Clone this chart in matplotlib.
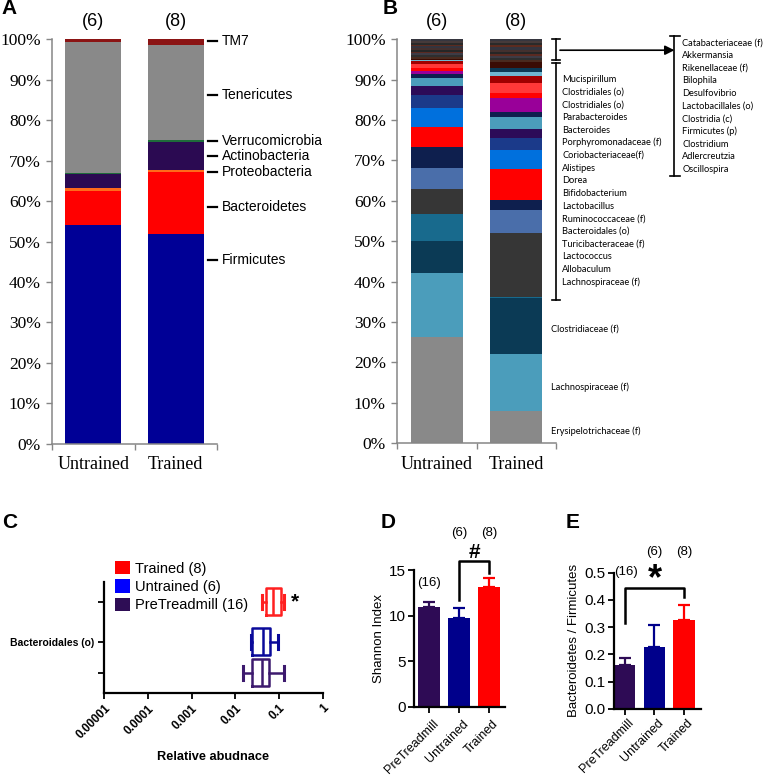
import matplotlib
matplotlib.use('Agg')
import matplotlib.pyplot as plt
import numpy as np
from matplotlib.patches import Patch
from matplotlib.ticker import FixedLocator, NullFormatter
from matplotlib.transforms import ScaledTranslation

W, H = 763, 776
SANS = 'Liberation Sans'
SERIF = 'Liberation Serif'
SMALL = 'Lato'

groups = ['Untrained', 'Trained']
group_n = ['(6)', '(8)']

# Panel A - phylum composition (%), bottom to top
phyla = ['Firmicutes', 'Bacteroidetes', 'Proteobacteria', 'Actinobacteria',
         'Verrucomicrobia', 'Tenericutes', 'TM7']
phyla_untrained = [54.0, 8.6, 0.6, 3.6, 0.1, 32.5, 0.6]
phyla_trained = [51.8, 15.4, 0.5, 6.9, 0.4, 23.6, 1.4]
phyla_colors = ['#000096', '#FF0000', '#FF6A1A', '#2B0A52', '#1E6B3A', '#898989', '#8B1414']
phyla_label_y = [45.4, 58.5, 67.1, 71.1, 74.8, 86.2, 99.6]

# Panel B - family / genus composition (%), bottom to top
taxa = ['Erysipelotrichaceae (f)', 'Lachnospiraceae (f)', 'Clostridiaceae (f)',
        'Lachnospiraceae (f)', 'Allobaculum', 'Lactococcus', 'Turicibacteraceae (f)',
        'Bacteroidales (o)', 'Ruminococcaceae (f)', 'Lactobacillus', 'Bifidobacterium',
        'Dorea', 'Alistipes', 'Coriobacteriaceae(f)', 'Porphyromonadaceae (f)',
        'Bacteroides', 'Parabacteroides', 'Clostridiales (o)', 'Clostridiales (o)',
        'Mucispirillum',
        'Oscillospira', 'Adlercreutzia', 'Clostridium', 'Firmicutes (p)', 'Clostridia (c)',
        'Lactobacillales (o)', 'Desulfovibrio', 'Bilophila', 'Rikenellaceae (f)',
        'Akkermansia', 'Catabacteriaceae (f)']
taxa_untrained = [26.4, 15.8, 7.8, 6.8, 6.1, 5.3, 5.2, 4.8, 4.7, 3.3, 2.3, 1.9, 1.0,
                  0.8, 0.8, 0.9, 0.7, 0.3, 0.1, 0.1,
                  0.5, 0.4, 0.5, 0.4, 0.5, 0.4, 0.45, 0.45, 0.4, 0.45, 0.45]
taxa_trained = [8.0, 14.2, 13.7, 0.4, 15.7, 5.8, 2.4, 7.7, 4.7, 2.9, 2.3, 2.9, 1.4,
                3.4, 1.1, 2.5, 1.7, 1.0, 1.0, 1.6,
                0.5, 0.55, 0.5, 0.5, 0.5, 0.5, 0.55, 0.5, 0.5, 0.5, 0.5]
taxa_colors = ['#898989', '#4B9DBB', '#0B3A55', '#186A8D', '#363636', '#4A6EAA',
               '#0E1F4E', '#FF0000', '#0070DD', '#1B3A8A', '#2C0B58', '#4B9DBB',
               '#0E1F4E', '#990099', '#FF0000', '#FF3838', '#A00000', '#6FB6D0',
               '#0B3A55', '#3A0C04',
               '#4A2A1E', '#2E2E2E', '#3D3B45', '#5A2A22', '#262626', '#43302E',
               '#34343E', '#5C2B1F', '#2A2A2A', '#463A3A', '#36363F']

# Panel C - Bacteroidales (o) relative abundance
c_groups = ['PreTreadmill (16)', 'Untrained (6)', 'Trained (8)']
c_whislo = [0.0152, 0.0224, 0.0407]
c_q1 = [0.0236, 0.0236, 0.0501]
c_med = [0.040, 0.0422, 0.0725]
c_q3 = [0.0597, 0.0619, 0.110]
c_whishi = [0.127, 0.0929, 0.129]

# Panels D, E
de_groups = ['PreTreadmill', 'Untrained', 'Trained']
de_n = ['(16)', '(6)', '(8)']
shannon = [11.0, 9.8, 13.2]
shannon_err = [0.55, 1.1, 0.95]
bf_ratio = [0.161, 0.226, 0.326]
bf_err = [0.024, 0.082, 0.055]
group_colors = ['#2E0B55', '#00008B', '#FF0000']
legend_colors = ['#2E0D55', '#0000FF', '#FF0000']
box_colors = ['#3D1A6E', '#0A0A9A', '#FF2020']

fig = plt.figure(figsize=(W / 100, H / 100), dpi=100)


def rect(left, top, right, bottom):
    return [left / W, 1 - bottom / H, (right - left) / W, (bottom - top) / H]


def ftext(x, y, s, **kw):
    fig.text(x / W, 1 - y / H, s, **kw)


def stacked(ax, cols, colors, width):
    x = np.arange(len(groups))
    vals = np.array(cols)
    bottom = np.zeros(len(groups))
    for i in range(vals.shape[1]):
        ax.bar(x, vals[:, i], width, bottom=bottom, color=colors[i], linewidth=0)
        bottom += vals[:, i]


def composition_axes(ax):
    ax.set_xlim(-0.5, 1.5)
    ax.set_ylim(0, 100)
    for s in ['top', 'right']:
        ax.spines[s].set_visible(False)
    for s in ['left', 'bottom']:
        ax.spines[s].set_color('#868686')
        ax.spines[s].set_linewidth(1.1)
    ax.set_yticks(np.arange(0, 101, 10))
    ax.set_yticklabels([f'{v}%' for v in range(0, 101, 10)], fontfamily=SERIF, fontsize=12.5)
    ax.set_xticks([-0.5, 0.5, 1.5])
    ax.set_xticklabels([])
    ax.set_xticks([0, 1], minor=True)
    ax.set_xticklabels(groups, minor=True, fontfamily=SERIF, fontsize=13)
    ax.tick_params(axis='both', which='major', direction='out', length=4, width=1,
                   color='#868686', pad=4)
    ax.tick_params(axis='x', which='minor', length=0, pad=9)
    for i, n in enumerate(group_n):
        ax.text(i, 104.5, n, ha='center', va='center', fontfamily=SANS, fontsize=13,
                clip_on=False)


# ---- Panel A
axA = fig.add_axes(rect(52, 39.3, 217, 443.7))
stacked(axA, [phyla_untrained, phyla_trained], phyla_colors, 0.675)
composition_axes(axA)
for name, y in zip(phyla, phyla_label_y):
    axA.plot([1.39, 1.50], [y, y], color='black', lw=1.6, clip_on=False)
    axA.text(1.56, y, name, ha='left', va='center', fontfamily=SANS, fontsize=10)

# ---- Panel B
axB = fig.add_axes(rect(397, 39.3, 556, 443.3))
stacked(axB, [taxa_untrained, taxa_trained], taxa_colors, 0.65)
composition_axes(axB)

kw = dict(color='black', lw=1.2, clip_on=False)
# lower bracket
axB.plot([1.5, 1.5], [35.5, 94.1], **kw)
axB.plot([1.45, 1.55], [35.5, 35.5], **kw)
axB.plot([1.45, 1.55], [94.1, 94.1], **kw)
# upper bracket
axB.plot([1.5, 1.5], [94.9, 100], **kw)
axB.plot([1.45, 1.55], [94.9, 94.9], **kw)
axB.plot([1.45, 1.55], [100, 100], **kw)
axB.annotate('', xy=(2.99, 97.3), xytext=(1.55, 97.3), annotation_clip=False,
             arrowprops=dict(arrowstyle='-|>', color='black', lw=1.2, mutation_scale=14,
                             shrinkA=0, shrinkB=0))
axB.plot([2.99, 2.99], [66.1, 100.8], **kw)
axB.plot([2.94, 3.06], [66.1, 66.1], **kw)
axB.plot([2.94, 3.06], [100.8, 100.8], **kw)

small = dict(ha='left', va='center', fontfamily=SMALL, fontsize=6.7, color='black')
for k, name in enumerate(taxa[3:20][::-1]):
    axB.text(1.58, 90.1 - 3.14 * k, name, **small)
for k, name in enumerate(taxa[20:][::-1]):
    axB.text(3.09, 99.1 - 3.13 * k, name, **small)
for name, y in zip(taxa[:3], [3.1, 14.0, 28.3]):
    axB.text(1.434, y, name, **small)

# ---- Panel C
axC = fig.add_axes(rect(104.3, 581.7, 322.7, 692.7))
c_pos = [0, 1, 2.29]
for i in range(3):
    st = [dict(whislo=c_whislo[i], q1=c_q1[i], med=c_med[i], q3=c_q3[i],
               whishi=c_whishi[i], fliers=[])]
    col = box_colors[i]
    lp = dict(color=col, linewidth=1.8)
    axC.bxp(st, positions=[c_pos[i]], widths=0.87, orientation='horizontal',
            showfliers=False, capwidths=0.45,
            boxprops=lp, whiskerprops=lp, capprops=dict(color=col, linewidth=2.2),
            medianprops=lp)
axC.set_xscale('log')
axC.set_xlim(1e-5, 1)
axC.set_ylim(-0.645, 2.935)
for s in ['top', 'right']:
    axC.spines[s].set_visible(False)
for s in ['left', 'bottom']:
    axC.spines[s].set_linewidth(1.6)
xt = [1e-5, 1e-4, 1e-3, 1e-2, 1e-1, 1]
axC.xaxis.set_major_locator(FixedLocator(xt))
axC.set_xticklabels(['0.00001', '0.0001', '0.001', '0.01', '0.1', '1'],
                    rotation=45, ha='right', rotation_mode='anchor',
                    fontfamily=SANS, fontweight='bold', fontsize=8.5)
axC.xaxis.set_minor_formatter(NullFormatter())
axC.set_yticks(c_pos)
axC.set_yticklabels(['', 'Bacteroidales (o)', ''], fontfamily=SANS, fontweight='bold',
                    fontsize=7.5)
axC.tick_params(axis='both', which='major', length=4, width=1.3, pad=3)
axC.tick_params(axis='x', which='minor', length=2.5, width=0.9)
axC.set_xlabel('Relative abudnace', fontfamily=SANS, fontweight='bold', fontsize=9.2,
               labelpad=7)
axC.text(0.19, c_pos[2], '*', ha='left', va='center', fontfamily=SANS,
         fontweight='bold', fontsize=15)
handles = [Patch(facecolor=legend_colors[i], edgecolor='none') for i in [2, 1, 0]]
axC.legend(handles, [c_groups[i] for i in [2, 1, 0]], loc='upper left',
           bbox_to_anchor=(115 / W, 1 - 561 / H), bbox_transform=fig.transFigure,
           frameon=False, borderpad=0, borderaxespad=0, handlelength=1.0,
           handleheight=1.0, handletextpad=0.35, labelspacing=0.27,
           prop=dict(family=SANS, size=10.5))


# ---- Panels D and E
def bar_panel(ax, vals, errs, xlim, ylim, yticks, fmt, ylabel, xpad):
    x = np.arange(3)
    for i in range(3):
        ax.errorbar(x[i], vals[i], yerr=[[0], [errs[i]]], color=group_colors[i],
                    capsize=4.3, elinewidth=1.6, capthick=1.6, zorder=1)
    ax.bar(x, vals, 0.72, color=group_colors, linewidth=0, zorder=2)
    ax.set_xlim(*xlim)
    ax.set_ylim(*ylim)
    for s in ['top', 'right']:
        ax.spines[s].set_visible(False)
    for s in ['left', 'bottom']:
        ax.spines[s].set_linewidth(1.6)
    ax.set_yticks(yticks)
    ax.set_yticklabels([fmt.format(v) for v in yticks], fontfamily=SANS, fontsize=11)
    ax.set_xticks(x)
    ax.set_xticklabels(de_groups, rotation=45, ha='right', rotation_mode='anchor',
                       fontfamily=SANS, fontsize=9)
    ax.tick_params(axis='both', length=4, width=1.3, pad=2)
    ax.tick_params(axis='x', pad=xpad)
    off = ScaledTranslation(3 / 100, 0, fig.dpi_scale_trans)
    for lab in ax.get_xticklabels():
        lab.set_transform(lab.get_transform() + off)
    ax.set_ylabel(ylabel, fontfamily=SANS, fontsize=9.5, labelpad=3)


axD = fig.add_axes(rect(414.3, 570.2, 505, 706.7))
bar_panel(axD, shannon, shannon_err, (-0.5, 2.53), (0, 15), [0, 5, 10, 15], '{:g}',
          'Shannon Index', 4)
bk = dict(color='black', lw=1.8, clip_on=False)
axD.plot([1, 1, 2, 2], [11.7, 16.0, 16.0, 14.66], **bk)
axD.text(1.5, 17.0, '#', ha='center', va='center', fontfamily=SANS,
         fontweight='bold', fontsize=15)
nk = dict(ha='center', va='center', fontfamily=SANS, fontsize=9.5)
axD.text(0, 13.56, de_n[0], **nk)
axD.text(1, 19.05, de_n[1], **nk)
axD.text(2, 19.05, de_n[2], **nk)

axE = fig.add_axes(rect(614, 572.7, 700.7, 708.7))
bar_panel(axE, bf_ratio, bf_err, (-0.36, 2.56), (0, 0.5), [0, 0.1, 0.2, 0.3, 0.4, 0.5],
          '{:.1f}', 'Bacteroidetes / Firmicutes', 2)
axE.plot([0, 0, 2, 2], [0.314, 0.443, 0.443, 0.412], **bk)
axE.text(1.03, 0.475, '*', ha='center', va='center', fontfamily=SANS,
         fontweight='bold', fontsize=26)
axE.text(0.05, 0.504, de_n[0], **nk)
axE.text(1, 0.575, de_n[1], **nk)
axE.text(2, 0.575, de_n[2], **nk)

# panel letters
lk = dict(ha='left', va='center', fontfamily=SANS, fontweight='bold', fontsize=15)
ftext(1, 9, 'A', **lk)
ftext(383, 9, 'B', **lk)
ftext(2, 523, 'C', **lk)
ftext(381, 523, 'D', **lk)
ftext(566, 523, 'E', **lk)

fig.savefig('out.png', dpi=100)
